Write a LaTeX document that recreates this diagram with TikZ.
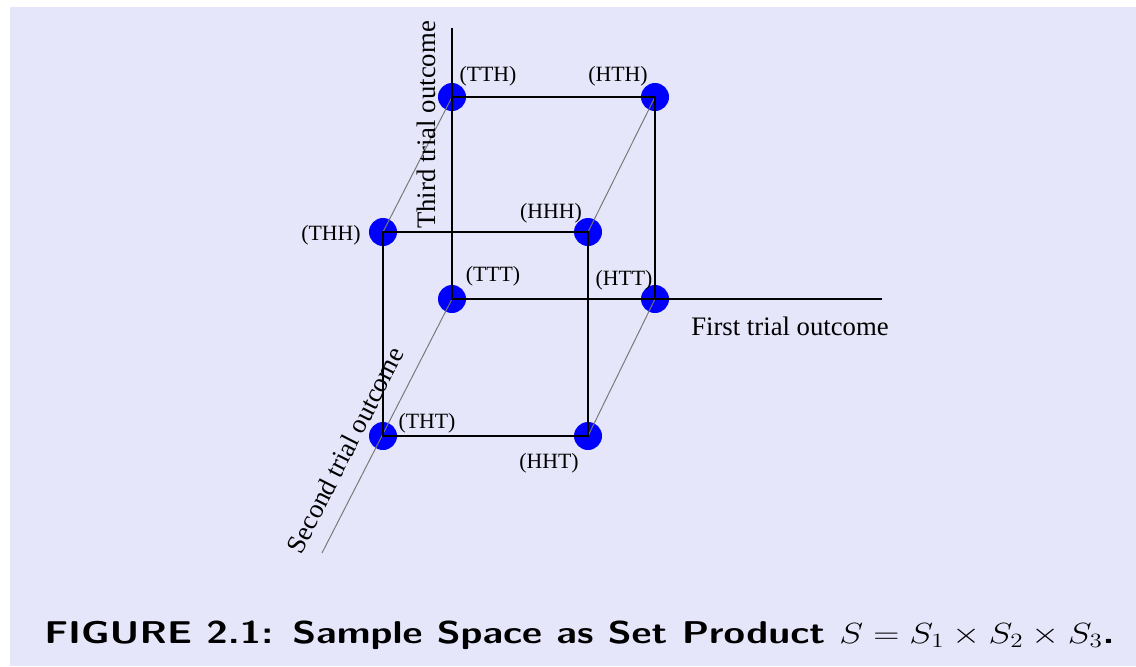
\documentclass[tikz,border=0pt]{standalone}
\usepackage{fontspec}
\setmainfont{Liberation Serif}
\usetikzlibrary{positioning}
\definecolor{pageLavender}{RGB}{230,230,250}
\definecolor{depthGray}{RGB}{120,120,120}

\begin{document}
\begin{tikzpicture}[
  x=0.025cm, y=-0.025cm,
  outcome/.style={
    circle,
    fill=blue,
    minimum size=0.7cm,
    inner sep=0pt
  },
  tag/.style={font=\fontsize{15.5}{18}\selectfont,inner sep=0pt},
  axislabel/.style={font=\fontsize{19}{22}\selectfont,inner sep=0pt},
  edge/.style={line width=1.4pt,black},
  depth/.style={line width=0.7pt,depthGray}
]
  \useasboundingbox (0,0) rectangle (1136,666);
  \fill[white] (0,0) rectangle (1136,666);
  \fill[pageLavender] (10,7) rectangle (1136,666);

  % the eight sample points
  \node[outcome] (tth) at (452,97) {};
  \node[outcome] (hth) at (655,97) {};
  \node[outcome] (thh) at (383,232) {};
  \node[outcome] (hhh) at (588,232) {};
  \node[outcome] (ttt) at (452,299) {};
  \node[outcome] (htt) at (655,299) {};
  \node[outcome] (tht) at (383,436) {};
  \node[outcome] (hht) at (588,436) {};

  % free ends of the axes
  \coordinate (thirdEnd) at (452,28);
  \coordinate (firstEnd) at (882,299);
  \coordinate (secondEnd) at (322,553);

  % depth edges
  \draw[depth] (tth.center) -- (thh.center);
  \draw[depth] (hth.center) -- (hhh.center);
  \draw[depth] (htt.center) -- (hht.center);
  \draw[depth] (ttt.center) -- (secondEnd);

  % axes and faces
  \draw[edge] (thirdEnd) -- (ttt.center) -- (firstEnd);
  \draw[edge] (tth.center) -- (hth.center) -- (htt.center);
  \draw[edge] (thh.center) -- (hhh.center) -- (hht.center)
    -- (tht.center) -- cycle;

  % point labels
  \node[tag] (tthTag) at (488,76) {(TTH)};
  \node[tag] (hthTag) at (618,76) {(HTH)};
  \node[tag] (thhTag) at (331,235) {(THH)};
  \node[tag] (hhhTag) at (551,213) {(HHH)};
  \node[tag] (tttTag) at (493,276) {(TTT)};
  \node[tag] (httTag) at (624,280) {(HTT)};
  \node[tag] (thtTag) at (427,423) {(THT)};
  \node[tag] (hhtTag) at (549,463) {(HHT)};

  % axis labels
  \node[axislabel] (firstLabel) at (790,326) {First trial outcome};
  \node[axislabel,rotate=90] (thirdLabel) at (426,125) {Third trial outcome};
  \node[axislabel,rotate=62.9] (secondLabel) at (345,450) {Second trial outcome};

  % caption
  \node[anchor=base west,inner sep=0pt,
    font=\sffamily\bfseries\fontsize{22.4}{26}\selectfont] (caption)
    at (44,643) {\scalebox{1.24}[1]{FIGURE 2.1: Sample Space as Set Product $S = S_1 \times S_2 \times S_3$.}};
\end{tikzpicture}
\end{document}
